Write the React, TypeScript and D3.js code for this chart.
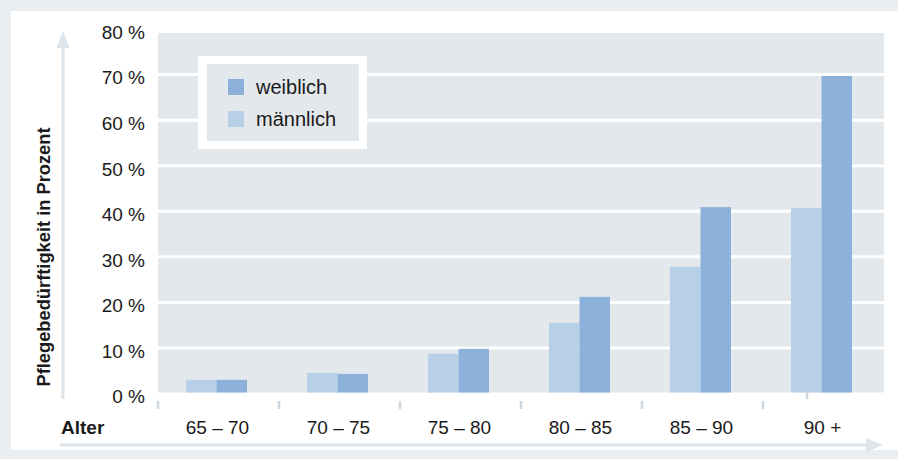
import React from "react";
import * as d3 from "d3";

const categories = ["65 – 70", "70 – 75", "75 – 80", "80 – 85", "85 – 90", "90 +"];
const weiblich = [3.0, 4.3, 9.8, 21.2, 40.9, 69.7];
const maennlich = [3.0, 4.5, 8.7, 15.5, 27.8, 40.7];
const yTicks = [0, 10, 20, 30, 40, 50, 60, 70, 80];
const legendLabels = ["weiblich", "männlich"];

const W = 898;
const H = 459;
const FONT = "'Liberation Sans', Arial, sans-serif";
const C_F = "#8cb1da";
const C_M = "#b8cfe8";
const C_BG = "#e3e8ec";
const C_OUT = "#e9eef2";
const C_ARROW = "#dde4ea";
const C_TICK = "#cfd7df";
const C_TEXT = "#1a1a1a";

export default function App() {
  const x = d3.scaleBand<string>().domain(categories).range([158, 884]);
  const y = d3.scaleLinear().domain([0, 80]).range([393.5, 29]);
  const barW = 30.5;
  const offset = 28;
  const plotTop = 33;
  const plotBottom = 392.5;

  return (
    <svg
      width={W}
      height={H}
      style={{ position: "absolute", left: 0, top: 0, display: "block" }}
      fontFamily={FONT}
    >
      <rect x={0} y={0} width={W} height={H} fill={C_OUT} />
      <rect x={11} y={11} width={W - 11} height={439} fill="#ffffff" />
      {/* plot background */}
      <rect x={158} y={plotTop} width={884 - 158} height={plotBottom - plotTop} fill={C_BG} />
      {/* gridlines */}
      {yTicks
        .filter((t) => t > 0 && t < 80)
        .map((t) => (
          <line key={t} x1={158} x2={884} y1={y(t)} y2={y(t)} stroke="#ffffff" strokeWidth={3} />
        ))}
      {/* legend */}
      <rect x={198} y={56} width={169} height={93} fill="#ffffff" />
      <rect x={207} y={64} width={152} height={77} fill={C_BG} />
      {legendLabels.map((l, i) => (
        <g key={l}>
          <rect x={228} y={79 + i * 32} width={16} height={16} fill={i === 0 ? C_F : C_M} />
          <text x={256} y={87 + i * 32} dy="0.36em" fontSize={20} fill={C_TEXT}>
            {l}
          </text>
        </g>
      ))}
      {/* bars */}
      {categories.map((c, i) => {
        const x0 = (x(c) as number) + offset;
        return (
          <g key={c}>
            <rect x={x0} y={y(maennlich[i])} width={barW} height={y(0) - y(maennlich[i]) - 1} fill={C_M} />
            <rect x={x0 + barW} y={y(weiblich[i])} width={barW} height={y(0) - y(weiblich[i]) - 1} fill={C_F} />
          </g>
        );
      })}
      {/* y tick labels */}
      {yTicks.map((t) => (
        <text
          key={t}
          x={145}
          y={y(t) + 3}
          dy="0.36em"
          textAnchor="end"
          fontSize={19}
          fill={C_TEXT}
        >
          {`${t} %`}
        </text>
      ))}
      {/* x ticks */}
      {categories.map((c) => (
        <line key={c} x1={x(c) as number} x2={x(c) as number} y1={401} y2={409} stroke={C_TICK} strokeWidth={2.5} />
      ))}
      <line x1={807} x2={807} y1={392} y2={399} stroke={C_TICK} strokeWidth={2.5} />
      {/* x labels */}
      {categories.map((c) => (
        <text
          key={c}
          x={(x(c) as number) + x.bandwidth() / 2 - 1}
          y={427}
          dy="0.36em"
          textAnchor="middle"
          fontSize={19}
          fill={C_TEXT}
        >
          {c}
        </text>
      ))}
      <text x={61} y={427} dy="0.36em" fontSize={19} fontWeight="bold" fill={C_TEXT}>
        Alter
      </text>
      {/* axis arrows */}
      <line x1={60} x2={870} y1={445} y2={445} stroke={C_ARROW} strokeWidth={3} />
      <path d="M866,438 L883,445 L866,452 Z" fill={C_ARROW} />
      <line x1={63} x2={63} y1={399} y2={45} stroke={C_ARROW} strokeWidth={3} />
      <path d="M56.5,48 L63,31 L69.5,48 Z" fill={C_ARROW} />
      {/* y title */}
      <text
        transform="translate(50,257) rotate(-90)"
        textAnchor="middle"
        fontSize={18.3}
        fontWeight="bold"
        fill={C_TEXT}
      >
        Pflegebedürftigkeit in Prozent
      </text>
    </svg>
  );
}
